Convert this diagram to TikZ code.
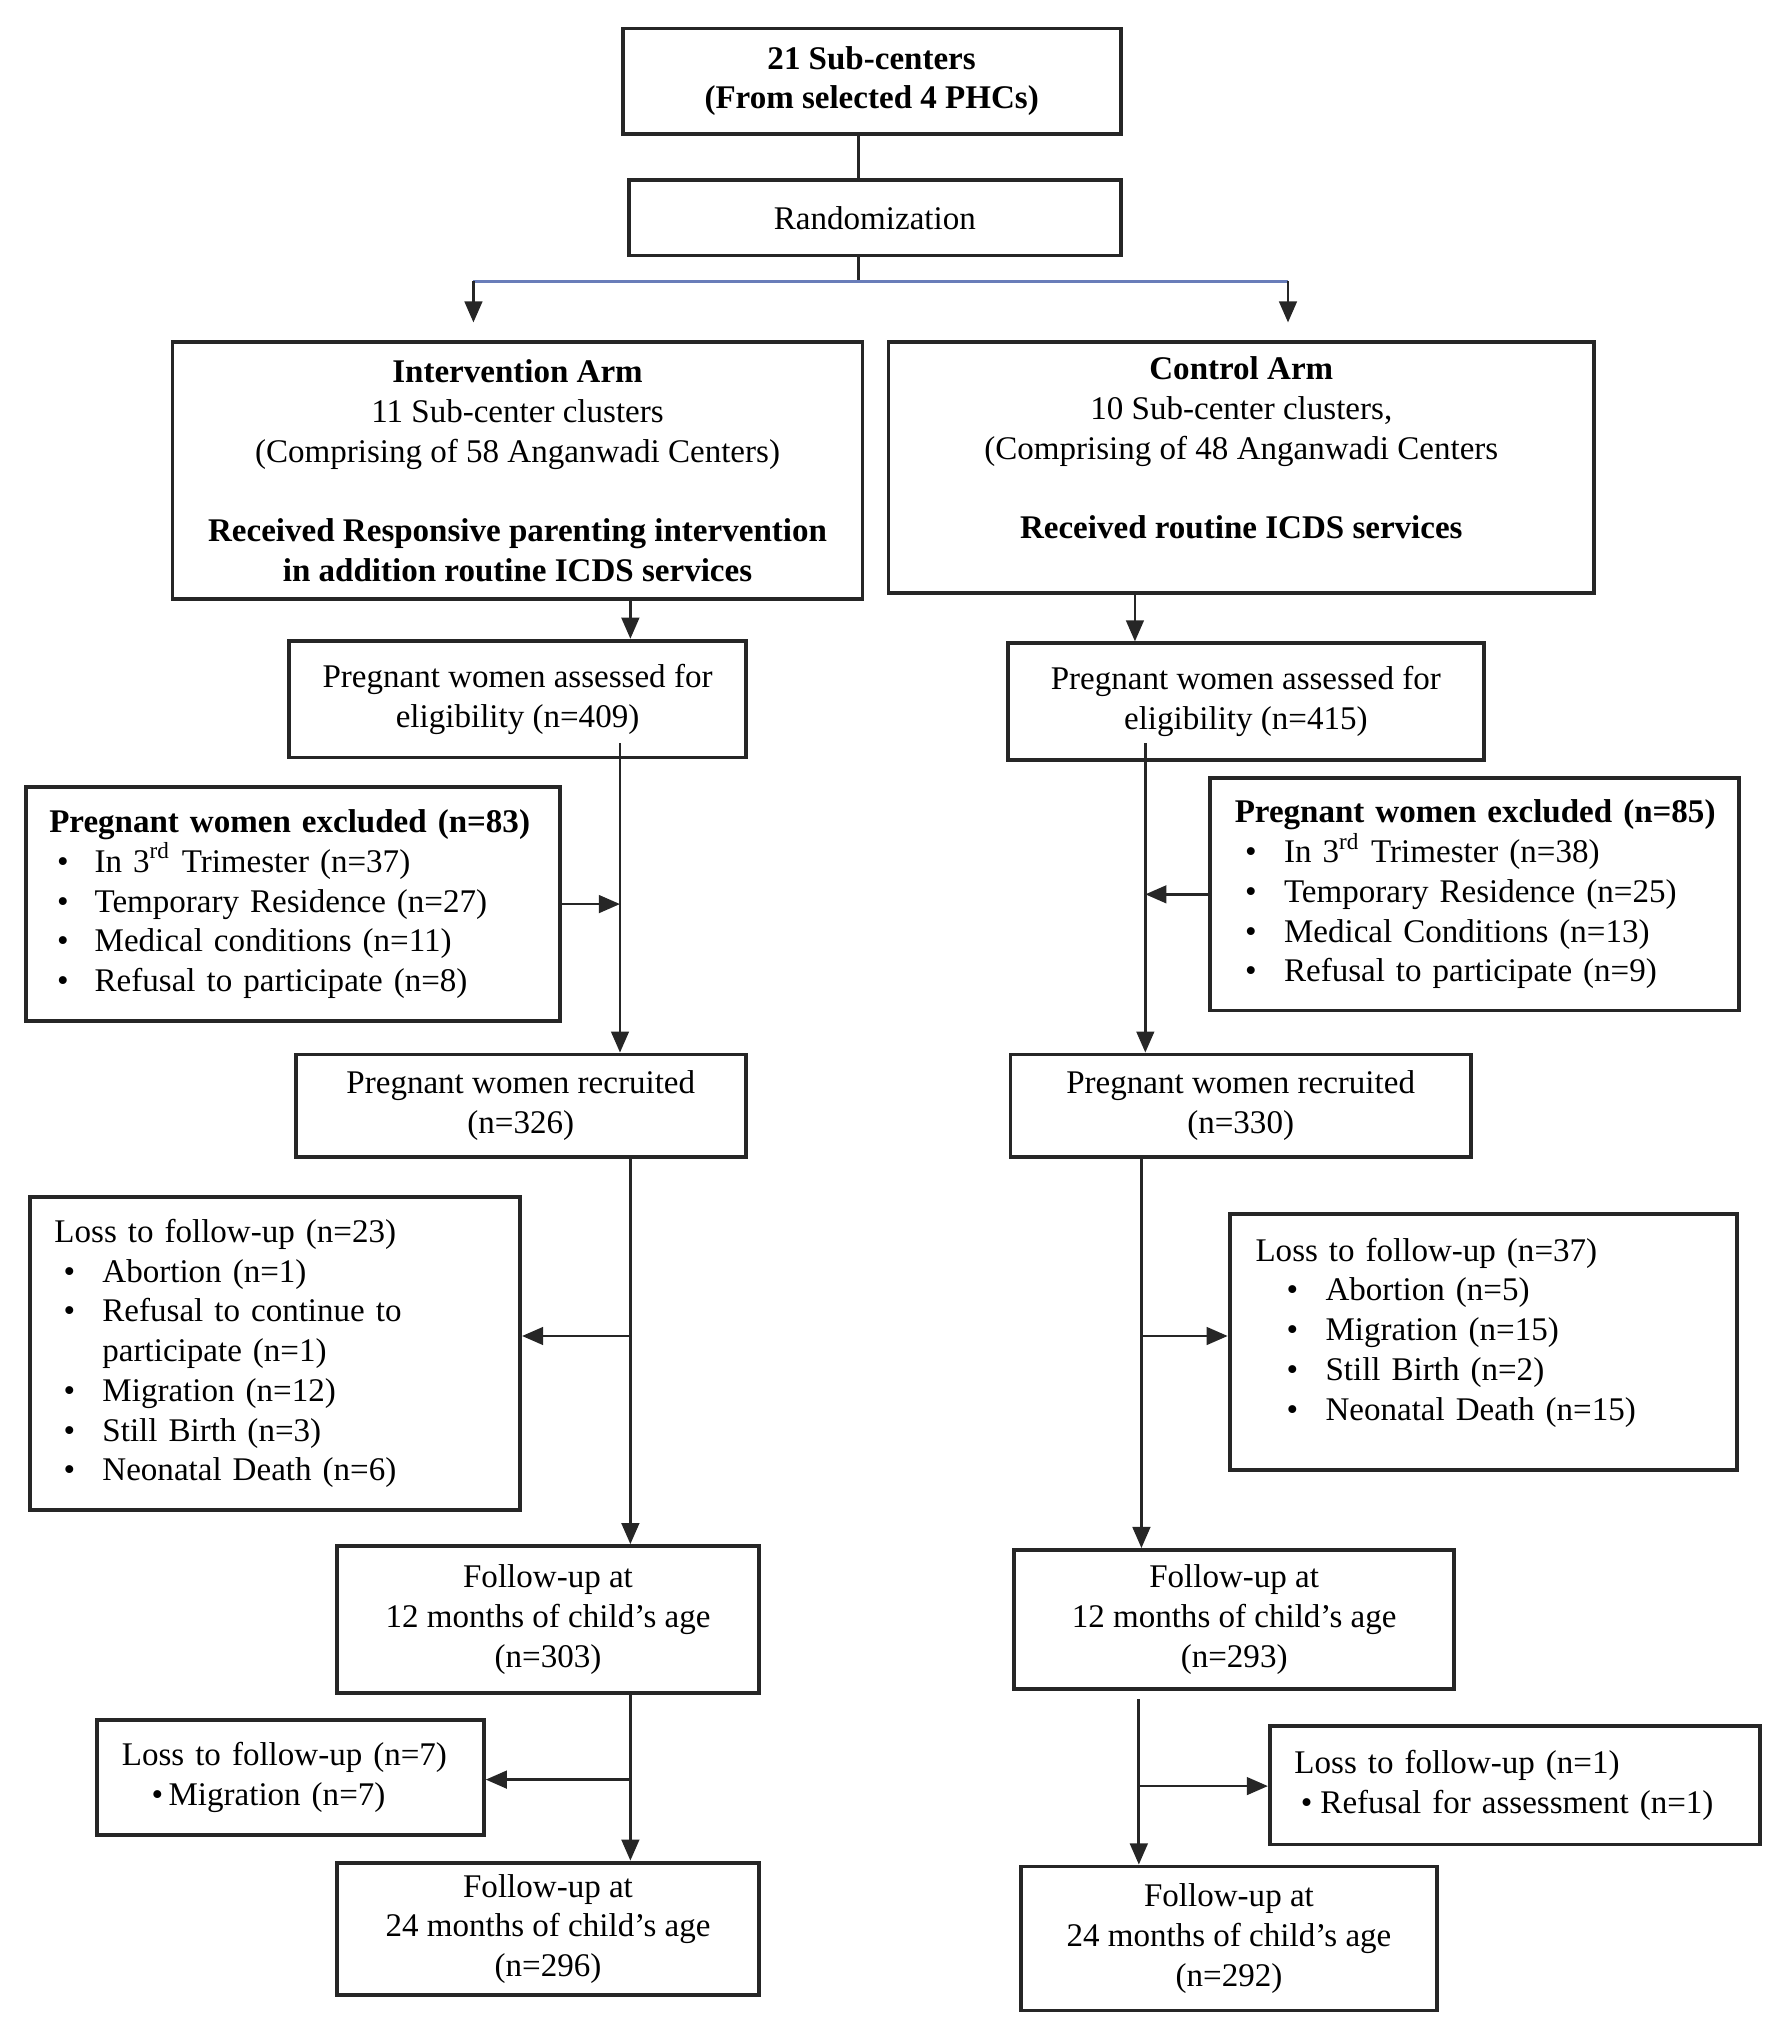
\documentclass[tikz,border=0pt]{standalone}
\usepackage{fontspec}
\setmainfont{Liberation Serif}
\usepackage{tikz}
\usetikzlibrary{arrows.meta}

\definecolor{splitblue}{RGB}{105,125,185}
% one pixel of the layout grid
\newcommand\px[1]{#1*0.012972cm}
% bullet line: offset, bullet box width, text
\newcommand\bitem[3]{\hspace*{#1}\makebox[#2][l]{\textbullet}#3}

\begin{document}
\begin{tikzpicture}[x=0.012972cm,y=-0.012972cm]
    \tikzstyle{box}=[draw=black!85,line width=1.1pt,inner sep=1pt,align=center,
      font=\fontsize{9.4}{11.3}\selectfont]
    \tikzstyle{list}=[box,align=left]
    \tikzstyle{edge}=[line width=0.8pt,draw=black!85]
    \tikzstyle{dedge}=[edge,-{Triangle[length=6pt,width=5pt]}]

    \useasboundingbox (0,0) rectangle (1366,1572);

    % top
    \node[box,minimum width=\px{384},minimum height=\px{81}] (top) at (672,62.5)
      {\textbf{21 Sub-centers}\\\textbf{(From selected 4 PHCs)}};
    \node[box,minimum width=\px{379},minimum height=\px{58}] (rand) at (674.5,168) {Randomization};

    % arms
    \node[box,minimum width=\px{532},minimum height=\px{198}] (armI) at (399,363)
      {\textbf{Intervention Arm}\\11 Sub-center clusters\\(Comprising of 58 Anganwadi Centers)\\[11.3pt]
      \textbf{Received Responsive parenting intervention}\\\textbf{in addition routine ICDS services}};
    \node[box,minimum width=\px{544},minimum height=\px{193}] (armC) at (957,360.5)
      {\textbf{Control Arm}\\10 Sub-center clusters,\\(Comprising of 48 Anganwadi Centers\\[11.3pt]
      \textbf{Received routine ICDS services}\\\mbox{}};

    % eligibility
    \node[box,minimum width=\px{352},minimum height=\px{90}] (ass1) at (399,539)
      {Pregnant women assessed for\\eligibility (n=409)};
    \node[box,minimum width=\px{367},minimum height=\px{90}] (ass2) at (960.5,541)
      {Pregnant women assessed for\\eligibility (n=415)};

    \node[list,minimum width=\px{412},minimum height=\px{180},text width=4.877cm] (excl1) at (226,697)
      {\mbox{\textbf{Pregnant women excluded (n=83)}}\\
      \bitem{0.078cm}{0.376cm}{In 3\textsuperscript{rd} Trimester (n=37)}\\
      \bitem{0.078cm}{0.376cm}{Temporary Residence (n=27)}\\
      \bitem{0.078cm}{0.376cm}{Medical conditions (n=11)}\\
      \bitem{0.078cm}{0.376cm}{Refusal to participate (n=8)}};
    \node[list,minimum width=\px{408},minimum height=\px{179},text width=4.800cm] (excl2) at (1137,689.5)
      {\mbox{\textbf{Pregnant women excluded (n=85)}}\\
      \bitem{0.104cm}{0.389cm}{In 3\textsuperscript{rd} Trimester (n=38)}\\
      \bitem{0.104cm}{0.389cm}{Temporary Residence (n=25)}\\
      \bitem{0.104cm}{0.389cm}{Medical Conditions (n=13)}\\
      \bitem{0.104cm}{0.389cm}{Refusal to participate (n=9)}};

    % recruited
    \node[box,minimum width=\px{347},minimum height=\px{79}] (recr1) at (401.5,852.5)
      {Pregnant women recruited\\(n=326)};
    \node[box,minimum width=\px{355},minimum height=\px{79}] (recr2) at (956.5,852.5)
      {Pregnant women recruited\\(n=330)};

    \node[list,minimum width=\px{378},minimum height=\px{241},text width=4.410cm] (loss1) at (212,1043.5)
      {Loss to follow-up (n=23)\\
      \bitem{0.091cm}{0.389cm}{Abortion (n=1)}\\
      \bitem{0.091cm}{0.389cm}{Refusal to continue to}\\
      \hspace*{0.48cm}participate (n=1)\\
      \bitem{0.091cm}{0.389cm}{Migration (n=12)}\\
      \bitem{0.091cm}{0.389cm}{Still Birth (n=3)}\\
      \bitem{0.091cm}{0.389cm}{Neonatal Death (n=6)}};
    \node[list,minimum width=\px{391},minimum height=\px{197},text width=4.553cm] (loss2) at (1143.5,1034.5)
      {Loss to follow-up (n=37)\\
      \bitem{0.311cm}{0.389cm}{Abortion (n=5)}\\
      \bitem{0.311cm}{0.389cm}{Migration (n=15)}\\
      \bitem{0.311cm}{0.389cm}{Still Birth (n=2)}\\
      \bitem{0.311cm}{0.389cm}{Neonatal Death (n=15)}\\[-4pt]\mbox{}};

    % 12 months
    \node[box,minimum width=\px{325},minimum height=\px{113}] (fu12L) at (422.5,1248.5)
      {Follow-up at\\12 months of child's age\\(n=303)};
    \node[box,minimum width=\px{339},minimum height=\px{107}] (fu12R) at (951.5,1248.5)
      {Follow-up at\\12 months of child's age\\(n=293)};

    \node[list,minimum width=\px{298},minimum height=\px{89},text width=3.373cm] (loss3) at (224,1370.5)
      {Loss to follow-up (n=7)\\
      \bitem{0.298cm}{0.169cm}{Migration (n=7)}};
    \node[list,minimum width=\px{378},minimum height=\px{91},text width=4.410cm] (loss4) at (1168,1376.5)
      {Loss to follow-up (n=1)\\
      \bitem{0.065cm}{0.195cm}{Refusal for assessment (n=1)}};

    % 24 months
    \node[box,minimum width=\px{325},minimum height=\px{102}] (fu24L) at (422.5,1487)
      {Follow-up at\\24 months of child's age\\(n=296)};
    \node[box,minimum width=\px{321},minimum height=\px{111}] (fu24R) at (947.5,1494.5)
      {Follow-up at\\24 months of child's age\\(n=292)};

    % trunk points
    \coordinate (split) at (662,217);
    \coordinate (splitL) at (365,217);
    \coordinate (splitR) at (993,217);
    \coordinate (xL1) at (486,0);
    \coordinate (xL2) at (478,573);
    \coordinate (xR1) at (875,0);
    \coordinate (xR2) at (883,573);
    \coordinate (xR3) at (880,0);
    \coordinate (xR4) at (878,1310);
    \coordinate (bL1) at (486,1030);
    \coordinate (bR1) at (880,1030);
    \coordinate (bL2) at (486,1372);
    \coordinate (bR2) at (878,1377);

    \draw[edge] (top.south -| split)--(rand.north -| split);
    \draw[edge] (rand.south -| split)--(split);
    \draw[edge,draw=splitblue] (splitL)--(splitR);
    \draw[dedge,shorten >=0.18cm] (splitL)--(splitL |- armI.north);
    \draw[dedge,shorten >=0.18cm] (splitR)--(splitR |- armC.north);

    \draw[dedge] (armI.south -| xL1)--(ass1.north -| xL1);
    \draw[dedge] (armC.south -| xR1)--(ass2.north -| xR1);
    \draw[dedge] (xL2)--(xL2 |- recr1.north);
    \draw[dedge] (xR2)--(xR2 |- recr2.north);
    \draw[dedge] (excl1.east)--(excl1.east -| xL2);
    \draw[dedge] (excl2.west)--(excl2.west -| xR2);

    \draw[dedge] (recr1.south -| xL1)--(fu12L.north -| xL1);
    \draw[dedge] (recr2.south -| xR3)--(fu12R.north -| xR3);
    \draw[dedge] (bL1)--(bL1 -| loss1.east);
    \draw[dedge] (bR1)--(bR1 -| loss2.west);

    \draw[dedge] (fu12L.south -| xL1)--(fu24L.north -| xL1);
    \draw[dedge] (xR4)--(xR4 |- fu24R.north);
    \draw[dedge] (bL2)--(bL2 -| loss3.east);
    \draw[dedge] (bR2)--(bR2 -| loss4.west);
  \end{tikzpicture}
\end{document}
